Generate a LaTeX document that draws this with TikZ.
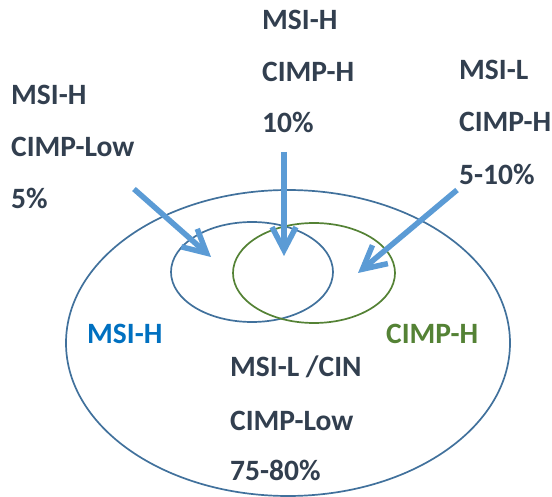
\documentclass[tikz,border=0pt]{standalone}
\usepackage{fontspec}
\setmainfont{Carlito}
\usetikzlibrary{arrows.meta}
\definecolor{txt}{HTML}{323F4F}
\definecolor{arrowblue}{HTML}{5B9BD5}
\definecolor{ringblue}{HTML}{41719C}
\definecolor{ringgreen}{HTML}{548235}
\definecolor{labblue}{HTML}{0070C0}
\begin{document}
\begin{tikzpicture}[x=1pt,y=-1pt,
  lbl/.style={anchor=base west,inner sep=0pt,text=txt,font=\fontsize{29.5}{34}\selectfont\bfseries},
  ring/.style={line width=1.7pt},
  bigarrow/.style={draw=arrowblue,line width=5.5pt,-{Straight Barb[length=23pt,width=24pt]}}
]
\useasboundingbox (0,0) rectangle (552,497);
% ellipses
\draw[ring,ringblue] (288,343) ellipse [x radius=222,y radius=153];
\draw[ring,ringblue] (252,272) ellipse [x radius=81,y radius=50];
\draw[ring,ringgreen] (314,273) ellipse [x radius=81,y radius=50];
% texts
\node[lbl] (l1) at (11,105) {MSI-H};
\node[lbl] (l2) at (11,157) {CIMP-Low};
\node[lbl] (l3) at (11,209) {5\%};
\node[lbl] (t1) at (262,30) {MSI-H};
\node[lbl] (t2) at (262,82) {CIMP-H};
\node[lbl] (t3) at (262,133) {10\%};
\node[lbl] (r1) at (459,80) {MSI-L};
\node[lbl] (r2) at (459,132) {CIMP-H};
\node[lbl] (r3) at (459,185) {5-10\%};
\node[lbl] (b1) at (230,377) {MSI-L /CIN};
\node[lbl] (b2) at (230,430) {CIMP-Low};
\node[lbl] (b3) at (230,480) {75-80\%};
\node[lbl,text=labblue] (mh) at (87,343) {MSI-H};
\node[lbl,text=ringgreen] (ch) at (386,343) {CIMP-H};
% arrows
\coordinate (s1) at (134,189);
\coordinate (e1) at (211,257);
\coordinate (s2) at (284,152);
\coordinate (e2) at (284,256);
\coordinate (s3) at (457,190);
\coordinate (e3) at (358,273);
\draw[bigarrow] (s1) -- (e1);
\draw[bigarrow] (s2) -- (e2);
\draw[bigarrow] (s3) -- (e3);
\end{tikzpicture}
\end{document}
